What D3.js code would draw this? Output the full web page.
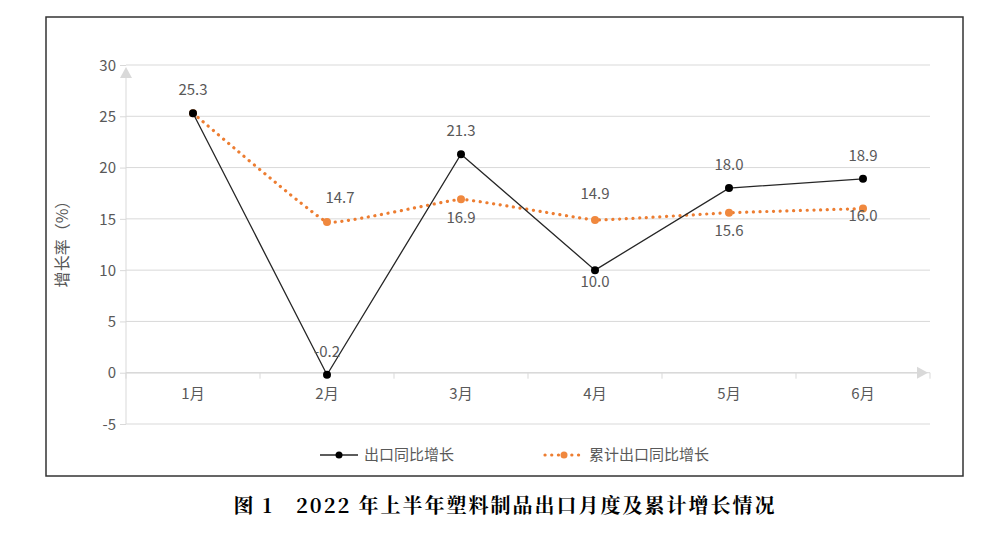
<!DOCTYPE html>
<html><head><meta charset="utf-8">
<script src="https://cdn.jsdelivr.net/npm/d3@7"></script>
<style>
body{margin:0;background:#fff;}
text{font-family:"Noto Sans CJK SC","Open Sans",sans-serif;}
</style></head>
<body>
<svg id="c" width="1000" height="534"></svg>
<script>
const categories = ["1月","2月","3月","4月","5月","6月"];
const monthly = [25.3, -0.2, 21.3, 10.0, 18.0, 18.9];
const cumulative = [25.3, 14.7, 16.9, 14.9, 15.6, 16.0];
const yTicks = [-5, 0, 5, 10, 15, 20, 25, 30];
const monthlyLabelPos = ["above","above","above","below","above","above"];
const cumLabelPos = ["none","aboveRight","below","above","below","below"];
const seriesNames = ["出口同比增长","累计出口同比增长"];
const title = "图 1　2022 年上半年塑料制品出口月度及累计增长情况";

const svg = d3.select("#c");
const L = 126, R = 930, T = 65, B = 424;
const grey = "#595959";

svg.append("rect").attr("x",46).attr("y",17).attr("width",917).attr("height",459)
  .attr("fill","#fff").attr("stroke","#333").attr("stroke-width",1.5);

const x = d3.scaleBand().domain(categories).range([L, R]);
const y = d3.scaleLinear().domain([-5, 30]).range([B, T]);

svg.append("g").selectAll("line").data(yTicks).join("line")
  .attr("x1", L).attr("x2", R).attr("y1", d=>y(d)).attr("y2", d=>y(d))
  .attr("stroke","#d9d9d9").attr("stroke-width",1);

const yAxis = svg.append("g").attr("transform",`translate(${L},0)`)
  .call(d3.axisLeft(y).tickValues(yTicks).tickFormat(d=>String(d)).tickSize(6).tickPadding(4));
yAxis.select(".domain").attr("stroke","#d9d9d9").attr("d",`M0,${B}V${T+5}`);
yAxis.selectAll(".tick line").attr("stroke","#d9d9d9").attr("x2",-6);
yAxis.selectAll("text").attr("fill",grey).style("font-size","15px").attr("dy","0.35em");
svg.append("path").attr("d",`M${L},${T+2}l-6,11h12z`).attr("fill","#d9d9d9");

const xAxis = svg.append("g").attr("transform",`translate(0,${y(0)})`)
  .call(d3.axisBottom(x).tickSize(0).tickPadding(16));
xAxis.select(".domain").attr("stroke","#d9d9d9").attr("stroke-width",1.5).attr("d",`M${L},0H${R-8}`);
xAxis.selectAll("text").attr("fill",grey).style("font-size","15px");
svg.append("g").selectAll("line").data(d3.range(categories.length+1)).join("line")
  .attr("x1", i=>L + i*x.step()).attr("x2", i=>L + i*x.step())
  .attr("y1", y(0)).attr("y2", y(0)+6).attr("stroke","#d9d9d9");
svg.append("path").attr("d",`M${R-2},${y(0)}l-11,-6v12z`).attr("fill","#d9d9d9");

const cx = d => x(d) + x.bandwidth()/2;

svg.append("text").attr("transform",`translate(68,240) rotate(-90)`)
  .attr("text-anchor","middle").attr("fill",grey).style("font-size","16px").text("增长率（%）");

const lineC = d3.line().x((d,i)=>cx(categories[i])).y(d=>y(d)).curve(d3.curveCardinal.tension(0.75));
svg.append("path").attr("d", lineC(cumulative)).attr("fill","none")
  .attr("stroke","#ed7d31").attr("stroke-width",3.2).attr("stroke-linecap","round")
  .attr("stroke-dasharray","0.1 6.6");
svg.append("g").selectAll("circle").data(cumulative).join("circle")
  .attr("cx",(d,i)=>cx(categories[i])).attr("cy",d=>y(d)).attr("r",4).attr("fill","#f0883e");

const lineM = d3.line().x((d,i)=>cx(categories[i])).y(d=>y(d));
svg.append("path").attr("d", lineM(monthly)).attr("fill","none")
  .attr("stroke","#262626").attr("stroke-width",1.3);
svg.append("g").selectAll("circle").data(monthly).join("circle")
  .attr("cx",(d,i)=>cx(categories[i])).attr("cy",d=>y(d)).attr("r",4).attr("fill","#000");

const lab = svg.append("g").attr("fill",grey).style("font-size","15px").attr("text-anchor","middle");
monthly.forEach((v,i)=>{
  const p = monthlyLabelPos[i];
  lab.append("text").attr("x",cx(categories[i]))
    .attr("y", p==="above" ? y(v)-23 : y(v)+12)
    .attr("dy","0.35em").text(v.toFixed(1));
});
cumulative.forEach((v,i)=>{
  const p = cumLabelPos[i];
  if(p==="none") return;
  let dx=0, dy=0;
  if(p==="aboveRight"){dx=13; dy=-24;}
  else if(p==="above"){dy=-26;}
  else {dy=18;}
  if(i===5) dy=7;
  lab.append("text").attr("x",cx(categories[i])+dx).attr("y",y(v)+dy)
    .attr("dy","0.35em").text(v.toFixed(1));
});

const lg = svg.append("g");
const ly = 455;
lg.append("line").attr("x1",320).attr("x2",358).attr("y1",ly).attr("y2",ly).attr("stroke","#262626").attr("stroke-width",1.3);
lg.append("circle").attr("cx",339).attr("cy",ly).attr("r",3.5).attr("fill","#000");
lg.append("text").attr("x",364).attr("y",ly).attr("dy","0.35em").attr("fill",grey).style("font-size","15px").text(seriesNames[0]);
lg.append("line").attr("x1",545).attr("x2",580).attr("y1",ly).attr("y2",ly).attr("stroke","#ed7d31")
  .attr("stroke-width",3.2).attr("stroke-linecap","round").attr("stroke-dasharray","0.1 6.6");
lg.append("circle").attr("cx",564).attr("cy",ly).attr("r",3.5).attr("fill","#f0883e");
lg.append("text").attr("x",589).attr("y",ly).attr("dy","0.35em").attr("fill",grey).style("font-size","15px").text(seriesNames[1]);

svg.append("text").attr("x",505).attr("y",506).attr("text-anchor","middle").attr("dy","0.35em")
  .attr("fill","#000").style("font-family","'Noto Serif CJK SC','Noto Sans CJK SC',serif")
  .style("font-weight","bold").style("font-size","20px").style("letter-spacing","2px").text(title);
</script>
</body></html>
